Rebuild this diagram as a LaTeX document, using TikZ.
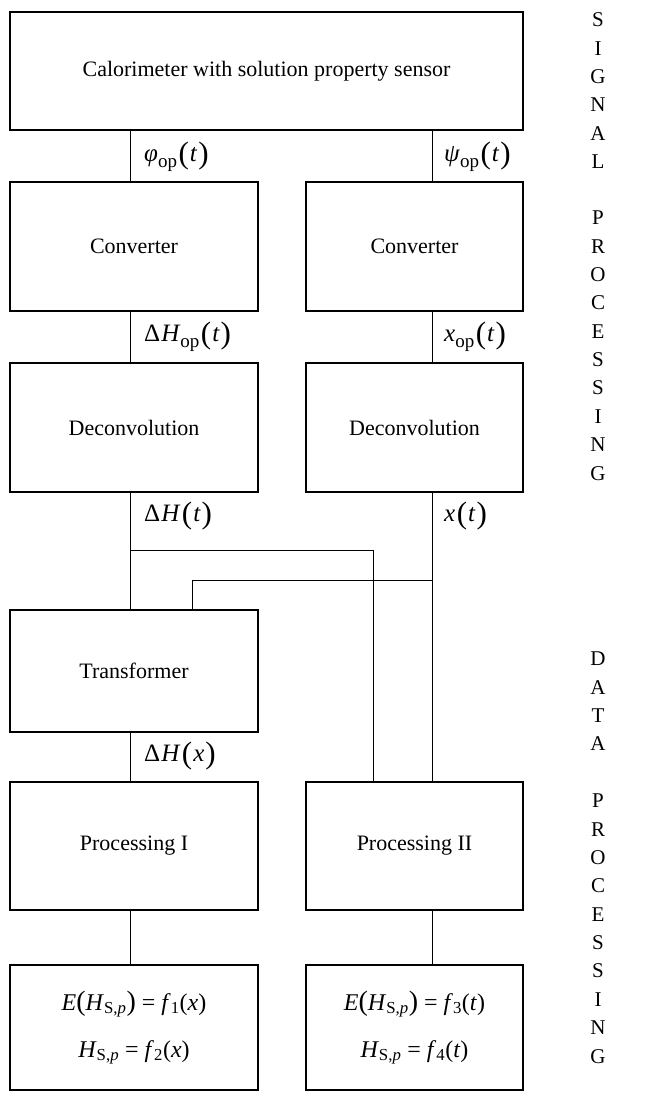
\documentclass[tikz,border=0pt]{standalone}
\usepackage{fontspec}
\setmainfont{Liberation Serif}
\newcommand{\vi}[1]{\textit{#1}}
\newcommand{\sbs}[1]{\textsubscript{#1}}
\newcommand{\lsb}[1]{\raisebox{-6pt}{\fontsize{19}{19}\selectfont #1}}
\newcommand{\bp}[1]{{\fontsize{28}{28}\selectfont(}#1{\fontsize{28}{28}\selectfont)}}
\newcommand{\lp}[1]{\kern1.5pt\raisebox{-1.5pt}{\fontsize{31}{31}\selectfont(}\kern1pt#1\kern1pt\raisebox{-1.5pt}{\fontsize{31}{31}\selectfont)}}
\begin{document}
\begin{tikzpicture}[x=1pt,y=-1pt,
  blk/.style={draw,line width=1.6pt,inner sep=0pt,font=\fontsize{22}{25}\selectfont},
  wire/.style={line width=0.8pt},
  lbl/.style={anchor=west,font=\fontsize{25}{28}\selectfont,inner sep=0pt},
  side/.style={font=\fontsize{21}{24}\selectfont,inner sep=0pt}]
\useasboundingbox (0,0) rectangle (664,1098);
\fill[white] (0,0) rectangle (664,1098);
% blocks
\node[blk,minimum width=513pt,minimum height=118pt] (top) at (266.5,71) {Calorimeter with solution property sensor};
\node[blk,minimum width=248pt,minimum height=129pt] (cl) at (134,246.5) {Converter};
\node[blk,minimum width=217pt,minimum height=129pt] (cr) at (414.5,246.5) {Converter};
\node[blk,minimum width=248pt,minimum height=129pt] (dl) at (134,427.5) {Deconvolution};
\node[blk,minimum width=217pt,minimum height=129pt] (dr) at (414.5,427.5) {Deconvolution};
\node[blk,minimum width=248pt,minimum height=122pt] (tr) at (134,671) {Transformer};
\node[blk,minimum width=248pt,minimum height=128pt] (p1) at (134,846) {Processing I};
\node[blk,minimum width=217pt,minimum height=128pt] (p2) at (414.5,846) {Processing II};
\node[blk,minimum width=248pt,minimum height=125pt,align=center,font=\fontsize{24}{27}\selectfont] (r1) at (134,1027.5)
  {\vi{E}\bp{\vi{H}\sbs{S,\vi{p}}} = \vi{f}\sbs{1}(\vi{x})\\[20pt]\vi{H}\sbs{S,\vi{p}} = \vi{f}\sbs{2}(\vi{x})};
\node[blk,minimum width=217pt,minimum height=125pt,align=center,font=\fontsize{24}{27}\selectfont] (r2) at (414.5,1027.5)
  {\vi{E}\bp{\vi{H}\sbs{S,\vi{p}}} = \vi{f}\sbs{3}(\vi{t})\\[20pt]\vi{H}\sbs{S,\vi{p}} = \vi{f}\sbs{4}(\vi{t})};
% column coordinates
\coordinate (L) at (130,0);
\coordinate (R) at (432,0);
\coordinate (M) at (373,0);
\coordinate (T) at (192,0);
\coordinate (h1) at (0,550);
\coordinate (h2) at (0,580);
% connectors
\draw[wire] (top.south -| L) -- (cl.north -| L);
\draw[wire] (top.south -| R) -- (cr.north -| R);
\draw[wire] (cl.south -| L) -- (dl.north -| L);
\draw[wire] (cr.south -| R) -- (dr.north -| R);
\draw[wire] (dl.south -| L) -- (tr.north -| L);
\draw[wire] (dr.south -| R) -- (p2.north -| R);
\draw[wire] (h1 -| L) -- (h1 -| M) -- (p2.north -| M);
\draw[wire] (h2 -| R) -- (h2 -| T) -- (tr.north -| T);
\draw[wire] (tr.south -| L) -- (p1.north -| L);
\draw[wire] (p1.south -| L) -- (r1.north -| L);
\draw[wire] (p2.south -| R) -- (r2.north -| R);
% labels
\node[lbl] (l1) at (144,157) {\vi{φ}\lsb{op}\lp{\vi{t}}};
\node[lbl] (l2) at (444,157) {\vi{ψ}\lsb{op}\lp{\vi{t}}};
\node[lbl] (l3) at (144,337) {Δ\kern1pt\vi{H}\lsb{op}\lp{\vi{t}}};
\node[lbl] (l4) at (444,337) {\vi{x}\lsb{op}\lp{\vi{t}}};
\node[lbl] (l5) at (144,516) {Δ\kern1pt\vi{H}\lp{\vi{t}}};
\node[lbl] (l6) at (444,516) {\vi{x}\lp{\vi{t}}};
\node[lbl] (l7) at (144,756) {Δ\kern1pt\vi{H}\lp{\vi{x}}};
% side text
\foreach \ch [count=\i from 0] in {S,I,G,N,A,L} {
  \node[side] (s\i) at (598,{20+28.35*\i}) {\ch};
}
\foreach \ch [count=\i from 0] in {P,R,O,C,E,S,S,I,N,G} {
  \node[side] (sp\i) at (598,{218+28.35*\i}) {\ch};
}
\foreach \ch [count=\i from 0] in {D,A,T,A} {
  \node[side] (d\i) at (598,{659+28.35*\i}) {\ch};
}
\foreach \ch [count=\i from 0] in {P,R,O,C,E,S,S,I,N,G} {
  \node[side] (dp\i) at (598,{801+28.35*\i}) {\ch};
}
\end{tikzpicture}
\end{document}
